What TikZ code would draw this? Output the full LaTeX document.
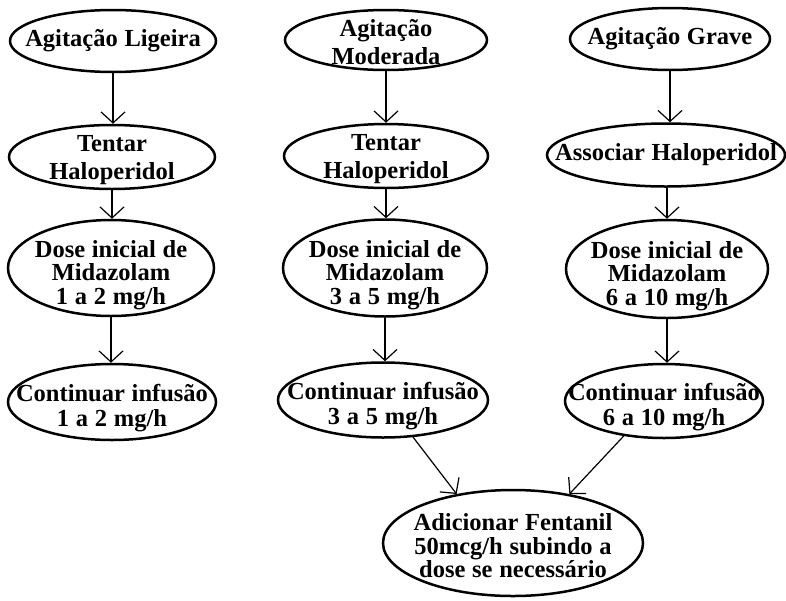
\documentclass[tikz,border=0pt]{standalone}
\usepackage{fontspec}
\setmainfont{Liberation Serif}[WordSpace=1.1]
\usetikzlibrary{shapes.geometric,arrows.meta}
\begin{document}
\begin{tikzpicture}[x=1pt,y=-1pt,
  ell/.style={draw, ellipse, line width=2.5pt, inner sep=0pt},
  txt/.style={align=center, font=\bfseries\fontsize{24.5}{23.5}\selectfont, inner sep=0pt},
  arr/.style={line width=1.2pt, -{Straight Barb[length=11pt,width=24pt]}}]
\useasboundingbox (0,0) rectangle (786,600);
% column 1
\node[ell, minimum width=206pt, minimum height=62pt] (a1) at (113,41) {};
\node[txt] (a1t) at (a1) {Agitação Ligeira};
\node[ell, minimum width=206pt, minimum height=64pt] (t1) at (112,157) {};
\node[txt, yshift=-3pt] (t1t) at (t1) {Tentar\\[4.5pt]Haloperidol};
\node[ell, minimum width=206pt, minimum height=96pt] (d1) at (111,268) {};
\node[txt, yshift=-7pt] (d1t) at (d1) {Dose inicial de\\Midazolam\\1 a 2 mg/h};
\node[ell, minimum width=208pt, minimum height=76pt] (f1) at (112,402) {};
\node[txt, yshift=-6pt] (f1t) at (f1) {Continuar infusão\\[1.5pt]1 a 2 mg/h};
% column 2
\node[ell, minimum width=202pt, minimum height=60pt] (a2) at (386,40) {};
\node[txt, yshift=-2pt] (a2t) at (a2) {Agitação\\[4.5pt]Moderada};
\node[ell, minimum width=204pt, minimum height=64pt] (t2) at (386,156) {};
\node[txt, yshift=-3pt] (t2t) at (t2) {Tentar\\[4.5pt]Haloperidol};
\node[ell, minimum width=204pt, minimum height=97pt] (d2) at (385,268) {};
\node[txt, yshift=-7pt] (d2t) at (d2) {Dose inicial de\\Midazolam\\3 a 5 mg/h};
\node[ell, minimum width=210pt, minimum height=75pt] (f2) at (383,400) {};
\node[txt, yshift=-6pt] (f2t) at (f2) {Continuar infusão\\[1.5pt]3 a 5 mg/h};
% column 3
\node[ell, minimum width=200pt, minimum height=62pt] (a3) at (670,39) {};
\node[txt] (a3t) at (a3) {Agitação Grave};
\node[ell, minimum width=238pt, minimum height=63pt] (t3) at (666,155) {};
\node[txt] (t3t) at (t3) {Associar Haloperidol};
\node[ell, minimum width=202pt, minimum height=98pt] (d3) at (667,269) {};
\node[txt, yshift=-7pt] (d3t) at (d3) {Dose inicial de\\Midazolam\\6 a 10 mg/h};
\node[ell, minimum width=198pt, minimum height=74pt] (f3) at (664,401) {};
\node[txt, yshift=-6pt] (f3t) at (f3) {Continuar infusão\\[1.5pt]6 a 10 mg/h};
% bottom
\node[ell, minimum width=260pt, minimum height=106pt] (b) at (513,543) {};
\node[txt, yshift=-3pt] (bt) at (b) {Adicionar Fentanil\\50mcg/h subindo a\\dose se necessário};
% arrows
\draw[arr] (a1.south) -- (a1.south |- t1.north);
\draw[arr] (t1.south) -- (t1.south |- d1.north);
\draw[arr] (d1.south) -- (d1.south |- f1.north);
\draw[arr] (a2.south) -- (a2.south |- t2.north);
\draw[arr] (t2.south) -- (t2.south |- d2.north);
\draw[arr] (d2.south) -- (d2.south |- f2.north);
\draw[arr] (a3.south) -- (a3.south |- t3.north);
\draw[arr] (d3.north |- t3.south) -- (d3.north);
\draw[arr] (d3.south) -- (d3.south |- f3.north);
\draw[arr] (f2.-51) -- (b.139);
\draw[arr] (f3.-139) -- (b.41);
\end{tikzpicture}
\end{document}
